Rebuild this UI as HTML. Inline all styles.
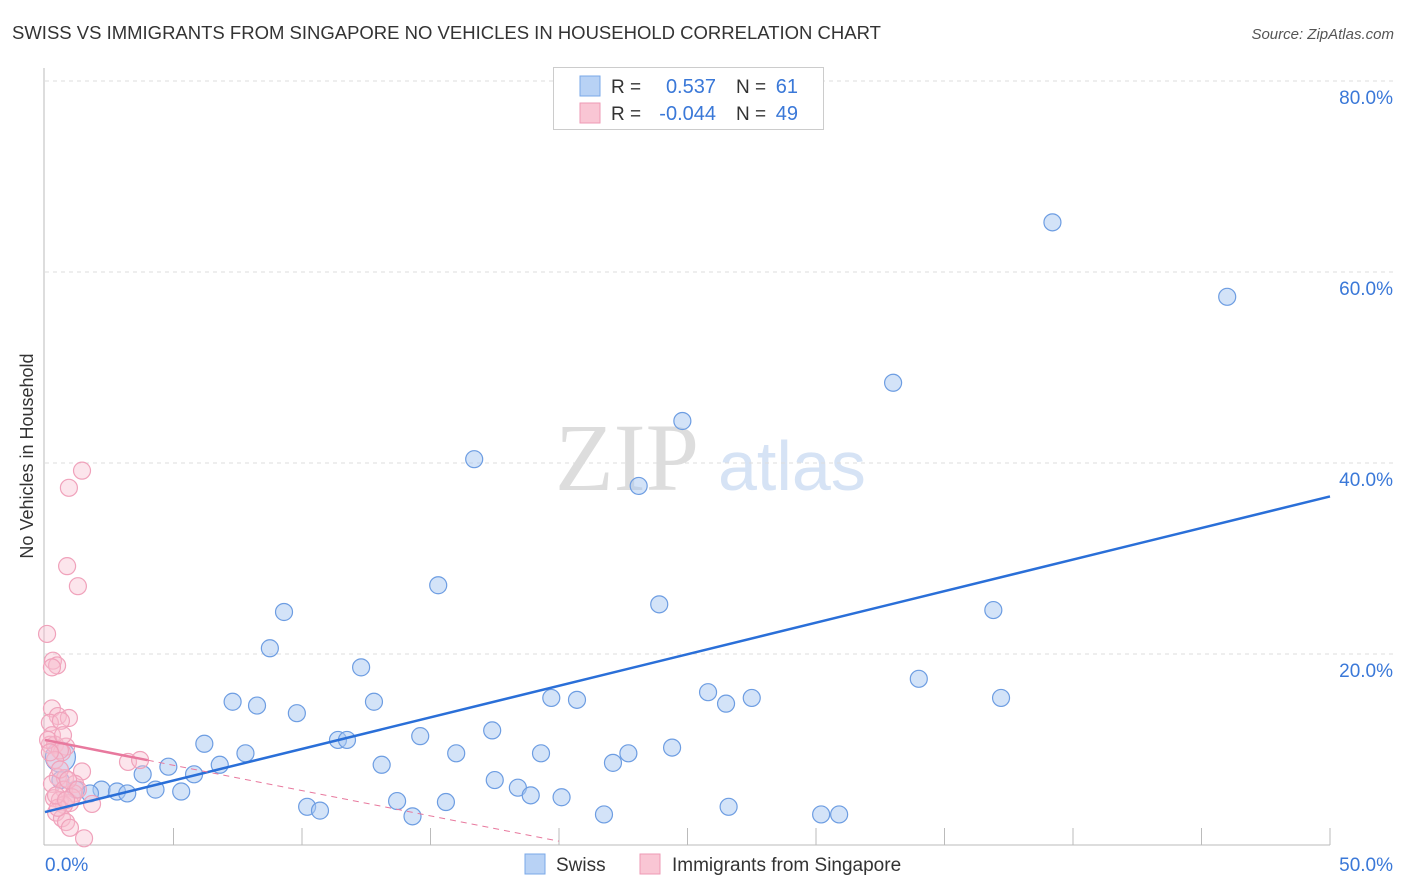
<!DOCTYPE html>
<html><head><meta charset="utf-8"><style>
body{margin:0;background:#fff;font-family:"Liberation Sans",sans-serif;}
#wrap{position:relative;width:1406px;height:892px;overflow:hidden;}
</style></head><body>
<div id="wrap">
<svg id="svg" width="1406" height="892" xmlns="http://www.w3.org/2000/svg">
<text x="12" y="39" font-size="18.5" fill="#333">SWISS VS IMMIGRANTS FROM SINGAPORE NO VEHICLES IN HOUSEHOLD CORRELATION CHART</text>
<text x="1394" y="39" font-size="15" fill="#555" font-style="italic" text-anchor="end">Source: ZipAtlas.com</text>
<text x="33" y="456" font-size="18" fill="#333" text-anchor="middle" transform="rotate(-90 33 456)">No Vehicles in Household</text>
<text x="555" y="490" font-size="96" fill="#ddd" font-family="Liberation Serif,serif">ZIP</text>
<text x="718" y="490" font-size="70" fill="#d6e3f5">atlas</text>
<g id="grid"></g><g id="marks"></g>
<g>
<rect x="553.5" y="67.5" width="270" height="62" fill="#fff" stroke="#ccc"/>
<rect x="580" y="76" width="20" height="20" fill="#b8d2f5" stroke="#7aa8e8"/>
<rect x="580" y="103" width="20" height="20" fill="#f9c6d4" stroke="#ee9ab4"/>
<text x="611" y="93" font-size="19" fill="#333">R = </text><text x="716" y="93" font-size="20" fill="#3a78d8" text-anchor="end">0.537</text>
<text x="736" y="93" font-size="19" fill="#333">N = </text><text x="798" y="93" font-size="20" fill="#3a78d8" text-anchor="end">61</text>
<text x="611" y="120" font-size="19" fill="#333">R = </text><text x="716" y="120" font-size="20" fill="#3a78d8" text-anchor="end">-0.044</text>
<text x="736" y="120" font-size="19" fill="#333">N = </text><text x="798" y="120" font-size="20" fill="#3a78d8" text-anchor="end">49</text>
</g>
<g>
<rect x="525" y="854" width="20" height="20" fill="#b8d2f5" stroke="#7aa8e8"/>
<text x="556" y="871" font-size="19" fill="#333">Swiss</text>
<rect x="640" y="854" width="20" height="20" fill="#f9c6d4" stroke="#ee9ab4"/>
<text x="672" y="871" font-size="19" fill="#333">Immigrants from Singapore</text>
</g>
</svg></div>
<script>
const swissX=[39.2,46.0,33.0,24.8,16.7,23.1,15.3,23.9,36.9,9.3,8.75,12.3,34.0,37.2,7.3,8.25,12.8,19.7,20.7,25.8,27.5,26.5,9.8,17.4,14.6,6.2,11.4,11.75,7.8,16.0,19.3,22.7,24.4,3.8,4.8,5.8,6.8,13.1,22.1,17.5,18.4,18.9,20.1,2.2,2.8,3.2,4.3,5.3,1.75,10.2,10.7,13.7,15.6,14.3,21.75,26.6,30.2,30.9,0.6,0.6,1.2];
const swissY=[65.2,57.4,48.4,44.4,40.4,37.6,27.2,25.2,24.6,24.4,20.6,18.6,17.4,15.4,15.0,14.6,15.0,15.4,15.2,16.0,15.4,14.8,13.8,12.0,11.4,10.6,11.0,11.0,9.6,9.6,9.6,9.6,10.2,7.4,8.2,7.4,8.4,8.4,8.6,6.8,6.0,5.2,5.0,5.8,5.6,5.4,5.8,5.6,5.4,4.0,3.6,4.6,4.5,3.0,3.2,4.0,3.2,3.2,9.2,6.8,5.8];
const sgX=[1.44,0.93,0.86,1.28,0.08,0.31,0.47,0.27,0.27,0.5,0.93,0.19,0.62,0.27,0.19,0.39,0.82,0.66,0.58,3.23,3.7,1.44,0.5,0.78,0.27,1.17,0.74,1.13,0.35,0.58,0.97,1.83,0.74,0.43,0.66,0.82,0.97,1.52,0.12,0.39,0.58,0.9,1.05,0.5,0.19,0.7,1.28,0.43,0.82];
const sgY=[39.2,37.4,29.2,27.1,22.1,19.3,18.8,18.6,14.3,13.5,13.3,12.8,13.0,11.5,10.5,10.5,10.3,9.7,9.9,8.7,8.9,7.7,7.1,7.0,6.4,6.4,5.8,5.4,4.9,4.7,4.4,4.3,4.2,3.4,2.8,2.4,1.8,0.7,11.0,8.9,7.9,6.8,5.0,3.9,9.7,11.5,5.8,5.2,4.7];
const yTicks=[20,40,60,80];
const xTicks=[0,5,10,15,20,25,30,35,40,45,50];
const swissTrend=[3.45,36.5];
const sgTrend=[11.0,-0.53];
const NS='http://www.w3.org/2000/svg';
const sx=v=>45+v*25.7, sy=v=>845-v*9.55;
function mk(tag,at,parent){const e=document.createElementNS(NS,tag);for(const k in at)e.setAttribute(k,at[k]);parent.appendChild(e);return e;}
const grid=document.getElementById('grid'),marks=document.getElementById('marks');
yTicks.forEach(t=>{
 const l=mk('line',{x1:45,x2:1393,y1:sy(t),y2:sy(t),stroke:'#ddd','stroke-dasharray':'4,4'},grid);
 
 
 const tx=mk('text',{x:1393,y:sy(t)+23,'font-size':19,fill:'#3a78d8','text-anchor':'end'},grid);
 tx.textContent=t.toFixed(1)+'%';
 
 
});
mk('line',{x1:44,x2:44,y1:68,y2:845,stroke:'#bbb'},grid);
mk('line',{x1:44,x2:1330,y1:845,y2:845,stroke:'#bbb'},grid);
xTicks.forEach(t=>{if(t>0){const l=mk('line',{x1:sx(t),x2:sx(t),y1:828,y2:845,stroke:'#bbb'},grid);
 
 }});
[[0,45,'start'],[50,1393,'end']].forEach(([v,x,a])=>{const tx=mk('text',{x:x,y:871,'font-size':19,fill:'#3a78d8','text-anchor':a},grid);tx.textContent=v.toFixed(1)+'%';
 
 });
swissX.forEach((x,i)=>{const c=mk('circle',{cx:sx(x),cy:sy(swissY[i]),r:i==58?15:8.5,fill:'rgba(168,200,242,0.5)',stroke:'#6d9de2','stroke-width':1.2},marks);
 
 });
sgX.forEach((x,i)=>{const c=mk('circle',{cx:sx(x),cy:sy(sgY[i]),r:8.5,fill:'rgba(248,190,208,0.4)',stroke:'#f0a2bb','stroke-width':1.2},marks);
 
 });
const bl=mk('line',{x1:sx(0),y1:sy(swissTrend[0]),x2:sx(50),y2:sy(swissTrend[1]),stroke:'#2a6fd8','stroke-width':2.5},marks);


const pd=mk('line',{x1:sx(4),y1:sy(sgTrend[0]+sgTrend[1]*4),x2:sx(20),y2:sy(sgTrend[0]+sgTrend[1]*20),stroke:'#e8799e','stroke-width':1,'stroke-dasharray':'6,5'},marks);


const pl=mk('line',{x1:sx(0),y1:sy(sgTrend[0]),x2:sx(4),y2:sy(sgTrend[0]+sgTrend[1]*4),stroke:'#e8799e','stroke-width':2.5},marks);


</script>
</body></html>
